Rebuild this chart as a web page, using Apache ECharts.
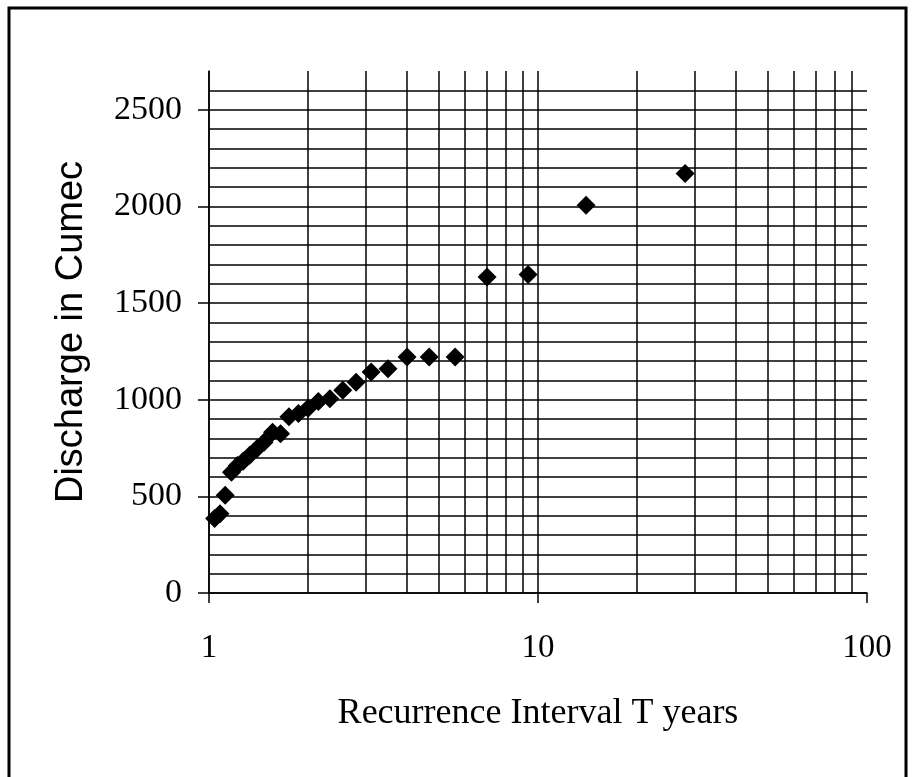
<!DOCTYPE html>
<html>
<head>
<meta charset="utf-8">
<title>Recurrence Interval</title>
<script src="https://cdn.jsdelivr.net/npm/echarts@6/dist/echarts.min.js"></script>
<style>
html, body { margin: 0; padding: 0; background: #fff; }
#main { width: 914px; height: 777px; }
</style>
</head>
<body>
<div id="main"></div>
<script>
// recurrence interval T (years) and discharge (cumec)
var tYears = [28, 14, 9.33, 7, 5.6, 4.67, 4, 3.5, 3.11, 2.8, 2.55, 2.33, 2.15, 2,
              1.87, 1.75, 1.65, 1.56, 1.47, 1.4, 1.33, 1.27, 1.22, 1.17, 1.12, 1.08, 1.04];
var discharge = [2170, 2005, 1648, 1634, 1221, 1221, 1221, 1160, 1143, 1090, 1049, 1005, 990, 956,
                 928, 912, 824, 832, 780, 748, 712, 682, 660, 625, 505, 410, 385];

// axis ticks
var yTickLabels = [0, 500, 1000, 1500, 2000, 2500];
var minorGridT = [2, 3, 4, 5, 6, 7, 8, 9, 20, 30, 40, 50, 60, 70, 80, 90];

var points = [];
for (var i = 0; i < tYears.length; i++) {
    points.push([tYears[i], discharge[i]]);
}

var myChart = echarts.init(document.getElementById('main'));

var option = {
    animation: false,
    backgroundColor: '#fff',
    grid: { left: 209, right: 47, top: 71, bottom: 184 },
    graphic: [{
        type: 'rect',
        shape: { x: 9, y: 8, width: 897, height: 800 },
        style: { fill: 'none', stroke: '#000', lineWidth: 3 },
        z: 100
    }],
    xAxis: {
        type: 'log',
        logBase: 10,
        min: 1,
        max: 100,
        name: 'Recurrence Interval T years',
        nameLocation: 'middle',
        nameGap: 103,
        nameTextStyle: { fontFamily: 'Liberation Serif', fontSize: 36, color: '#000' },
        axisLine: { show: true, lineStyle: { color: '#000', width: 1.5 } },
        axisTick: { show: true, inside: false, length: 10, lineStyle: { color: '#000', width: 1.5 } },
        axisLabel: { margin: 39, fontFamily: 'Liberation Serif', fontSize: 33, color: '#000',
                     formatter: function (v) { return String(v); } },
        splitLine: { show: true, showMaxLine: false, lineStyle: { color: '#000', width: 1.5 } },
        minorTick: { show: false },
        minorSplitLine: { show: false }
    },
    yAxis: [{
        // grid lines every 100
        type: 'value',
        min: 0,
        max: 2700,
        interval: 100,
        name: 'Discharge in Cumec',
        nameLocation: 'middle',
        nameRotate: 90,
        nameGap: 118,
        nameTextStyle: { fontFamily: 'Liberation Sans', fontSize: 38, color: '#000' },
        axisLine: { show: true, lineStyle: { color: '#000', width: 1.5 } },
        axisTick: { show: false },
        axisLabel: { show: false },
        splitLine: { show: true, showMaxLine: false, lineStyle: { color: '#000', width: 1.5 } }
    }, {
        // ticks and labels every 500
        type: 'value',
        position: 'left',
        min: 0,
        max: 2700,
        interval: 100,
        axisLine: { show: false },
        axisTick: { show: true, inside: false, length: 11, customValues: yTickLabels,
                    lineStyle: { color: '#000', width: 1.5 } },
        axisLabel: {
            margin: 27, fontFamily: 'Liberation Serif', fontSize: 34, color: '#000',
            customValues: yTickLabels,
            formatter: function (v) { return String(v); }
        },
        splitLine: { show: false }
    }],
    series: [{
        type: 'scatter',
        data: points,
        symbol: 'diamond',
        symbolSize: 19,
        itemStyle: { color: '#000', opacity: 1 },
        z: 5,
        markLine: {
            silent: true,
            z: 1,
            symbol: ['none', 'none'],
            label: { show: false },
            lineStyle: { color: '#000', type: 'solid', width: 1.5 },
            data: minorGridT.map(function (v) { return { xAxis: v }; })
        }
    }]
};

myChart.setOption(option);
</script>
</body>
</html>
